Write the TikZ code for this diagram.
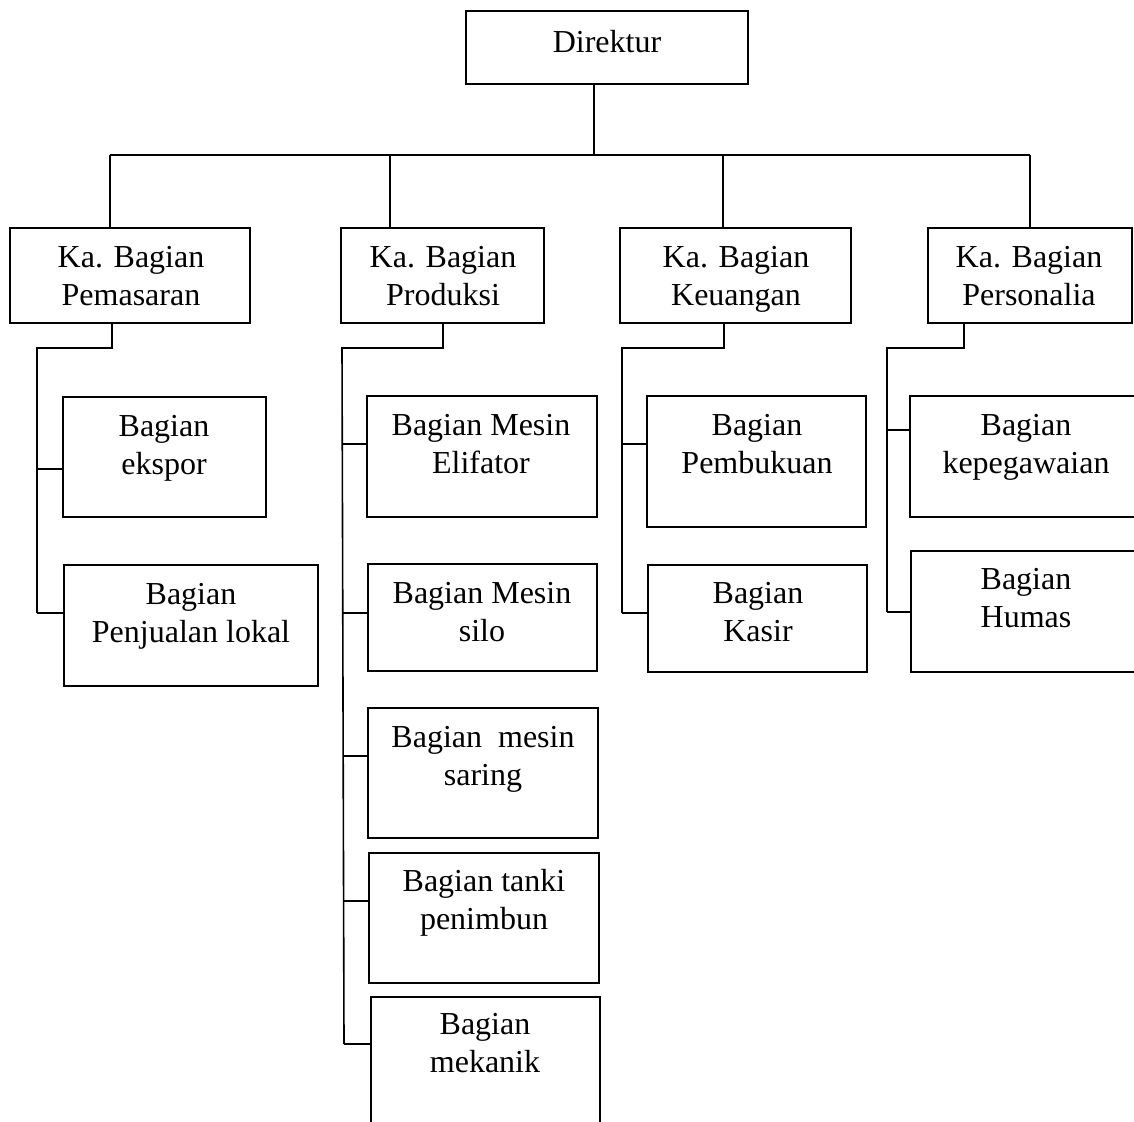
\documentclass[tikz,border=0pt]{standalone}
\usepackage{fontspec}
\setmainfont{Liberation Serif}
\tikzset{
  box/.style={draw=black, line width=1.6pt, rectangle, inner sep=0pt, fill=none},
  txt/.style={inner sep=0pt, align=center, font=\fontsize{32}{37.5}\selectfont},
  conn/.style={draw=black, line width=1.6pt},
}
\newcommand\bx[5]{\node[box, minimum width={#4pt-#2pt}, minimum height={#5pt-#3pt}] (#1) at ({(#2+#4)/2},{(#3+#5)/2}) {};}
\newcommand\tl[2]{\strut #1\strut\\\strut #2\strut}
\begin{document}
\begin{tikzpicture}[x=1pt,y=-1pt]
\useasboundingbox (0,0) rectangle (1134,1121);
\clip (0,0) rectangle (1134,1121);
% boxes
\bx{dir}{466}{11}{748}{84}
\bx{kp1}{10}{228}{250}{323}
\bx{kp2}{341}{228}{544}{323}
\bx{kp3}{620}{228}{851}{323}
\bx{kp4}{928}{228}{1132}{323}
\bx{ekspor}{63}{397}{266}{517}
\bx{penj}{64}{565}{318}{686}
\bx{elif}{367}{396}{597}{517}
\bx{silo}{368}{564}{597}{671}
\bx{saring}{368}{708}{598}{838}
\bx{tanki}{369}{853}{599}{983}
\bx{mekanik}{371}{997}{600}{1150}
\bx{pembuk}{647}{396}{866}{527}
\bx{kasir}{648}{565}{867}{672}
\bx{kepeg}{910}{396}{1150}{517}
\bx{humas}{911}{551}{1150}{672}
% texts
\node[txt] (dir-t) at (607,45) {\strut Direktur\strut};
\node[txt] (kp1-t) at (131,279) {\tl{Ka. Bagian}{Pemasaran}};
\node[txt] (kp2-t) at (443,279) {\tl{Ka. Bagian}{Produksi}};
\node[txt] (kp3-t) at (736,279) {\tl{Ka. Bagian}{Keuangan}};
\node[txt] (kp4-t) at (1029,279) {\tl{Ka. Bagian}{Personalia}};
\node[txt] (ekspor-t) at (164,448) {\tl{Bagian}{ekspor}};
\node[txt] (penj-t) at (191,616) {\tl{Bagian}{Penjualan lokal}};
\node[txt] (elif-t) at (481,447) {\tl{Bagian Mesin}{Elifator}};
\node[txt] (silo-t) at (482,615) {\tl{Bagian Mesin}{silo}};
\node[txt] (saring-t) at (483,759) {\tl{Bagian~~mesin}{saring}};
\node[txt] (tanki-t) at (484,903) {\tl{Bagian tanki}{penimbun}};
\node[txt] (mekanik-t) at (485,1046) {\tl{Bagian}{mekanik}};
\node[txt] (pembuk-t) at (757,447) {\tl{Bagian}{Pembukuan}};
\node[txt] (kasir-t) at (758,615) {\tl{Bagian}{Kasir}};
\node[txt] (kepeg-t) at (1026,447) {\tl{Bagian}{kepegawaian}};
\node[txt] (humas-t) at (1026,601) {\tl{Bagian}{Humas}};
% top connectors
\coordinate (bc) at (594,155);
\coordinate (b1) at (110,155);
\coordinate (b2) at (390,155);
\coordinate (b3) at (723,155);
\coordinate (b4) at (1030,155);
\draw[conn] (bc |- dir.south) -- (bc);
\draw[conn] (b1) -- (b4);
\draw[conn] (b1) -- (b1 |- kp1.north);
\draw[conn] (b2) -- (b2 |- kp2.north);
\draw[conn] (b3) -- (b3 |- kp3.north);
\draw[conn] (b4) -- (b4 |- kp4.north);
% Pemasaran
\coordinate (p1) at (112,348);
\coordinate (p1t) at (37,348);
\coordinate (p1e) at (37,613);
\draw[conn] (p1 |- kp1.south) -- (p1) -- (p1t) -- (p1e);
\draw[conn] (37,469) -- (ekspor.west |- 0,469);
\draw[conn] (p1e) -- (penj.west |- p1e);
% Produksi
\coordinate (p2) at (443,348);
\coordinate (p2t) at (342,348);
\coordinate (p2e) at (344,1044);
\draw[conn] (p2 |- kp2.south) -- (p2) -- (p2t) -- (p2e);
\draw[conn] (342,444) -- (elif.west |- 0,444);
\draw[conn] (343,613) -- (silo.west |- 0,613);
\draw[conn] (343,756) -- (saring.west |- 0,756);
\draw[conn] (344,901) -- (tanki.west |- 0,901);
\draw[conn] (p2e) -- (mekanik.west |- p2e);
% Keuangan
\coordinate (p3) at (724,348);
\coordinate (p3t) at (622,348);
\coordinate (p3e) at (622,613);
\draw[conn] (p3 |- kp3.south) -- (p3) -- (p3t) -- (p3e);
\draw[conn] (622,444) -- (pembuk.west |- 0,444);
\draw[conn] (p3e) -- (kasir.west |- p3e);
% Personalia
\coordinate (p4) at (964,348);
\coordinate (p4t) at (887,348);
\coordinate (p4e) at (887,612);
\draw[conn] (p4 |- kp4.south) -- (p4) -- (p4t) -- (p4e);
\draw[conn] (887,430) -- (kepeg.west |- 0,430);
\draw[conn] (p4e) -- (humas.west |- p4e);
\end{tikzpicture}
\end{document}
